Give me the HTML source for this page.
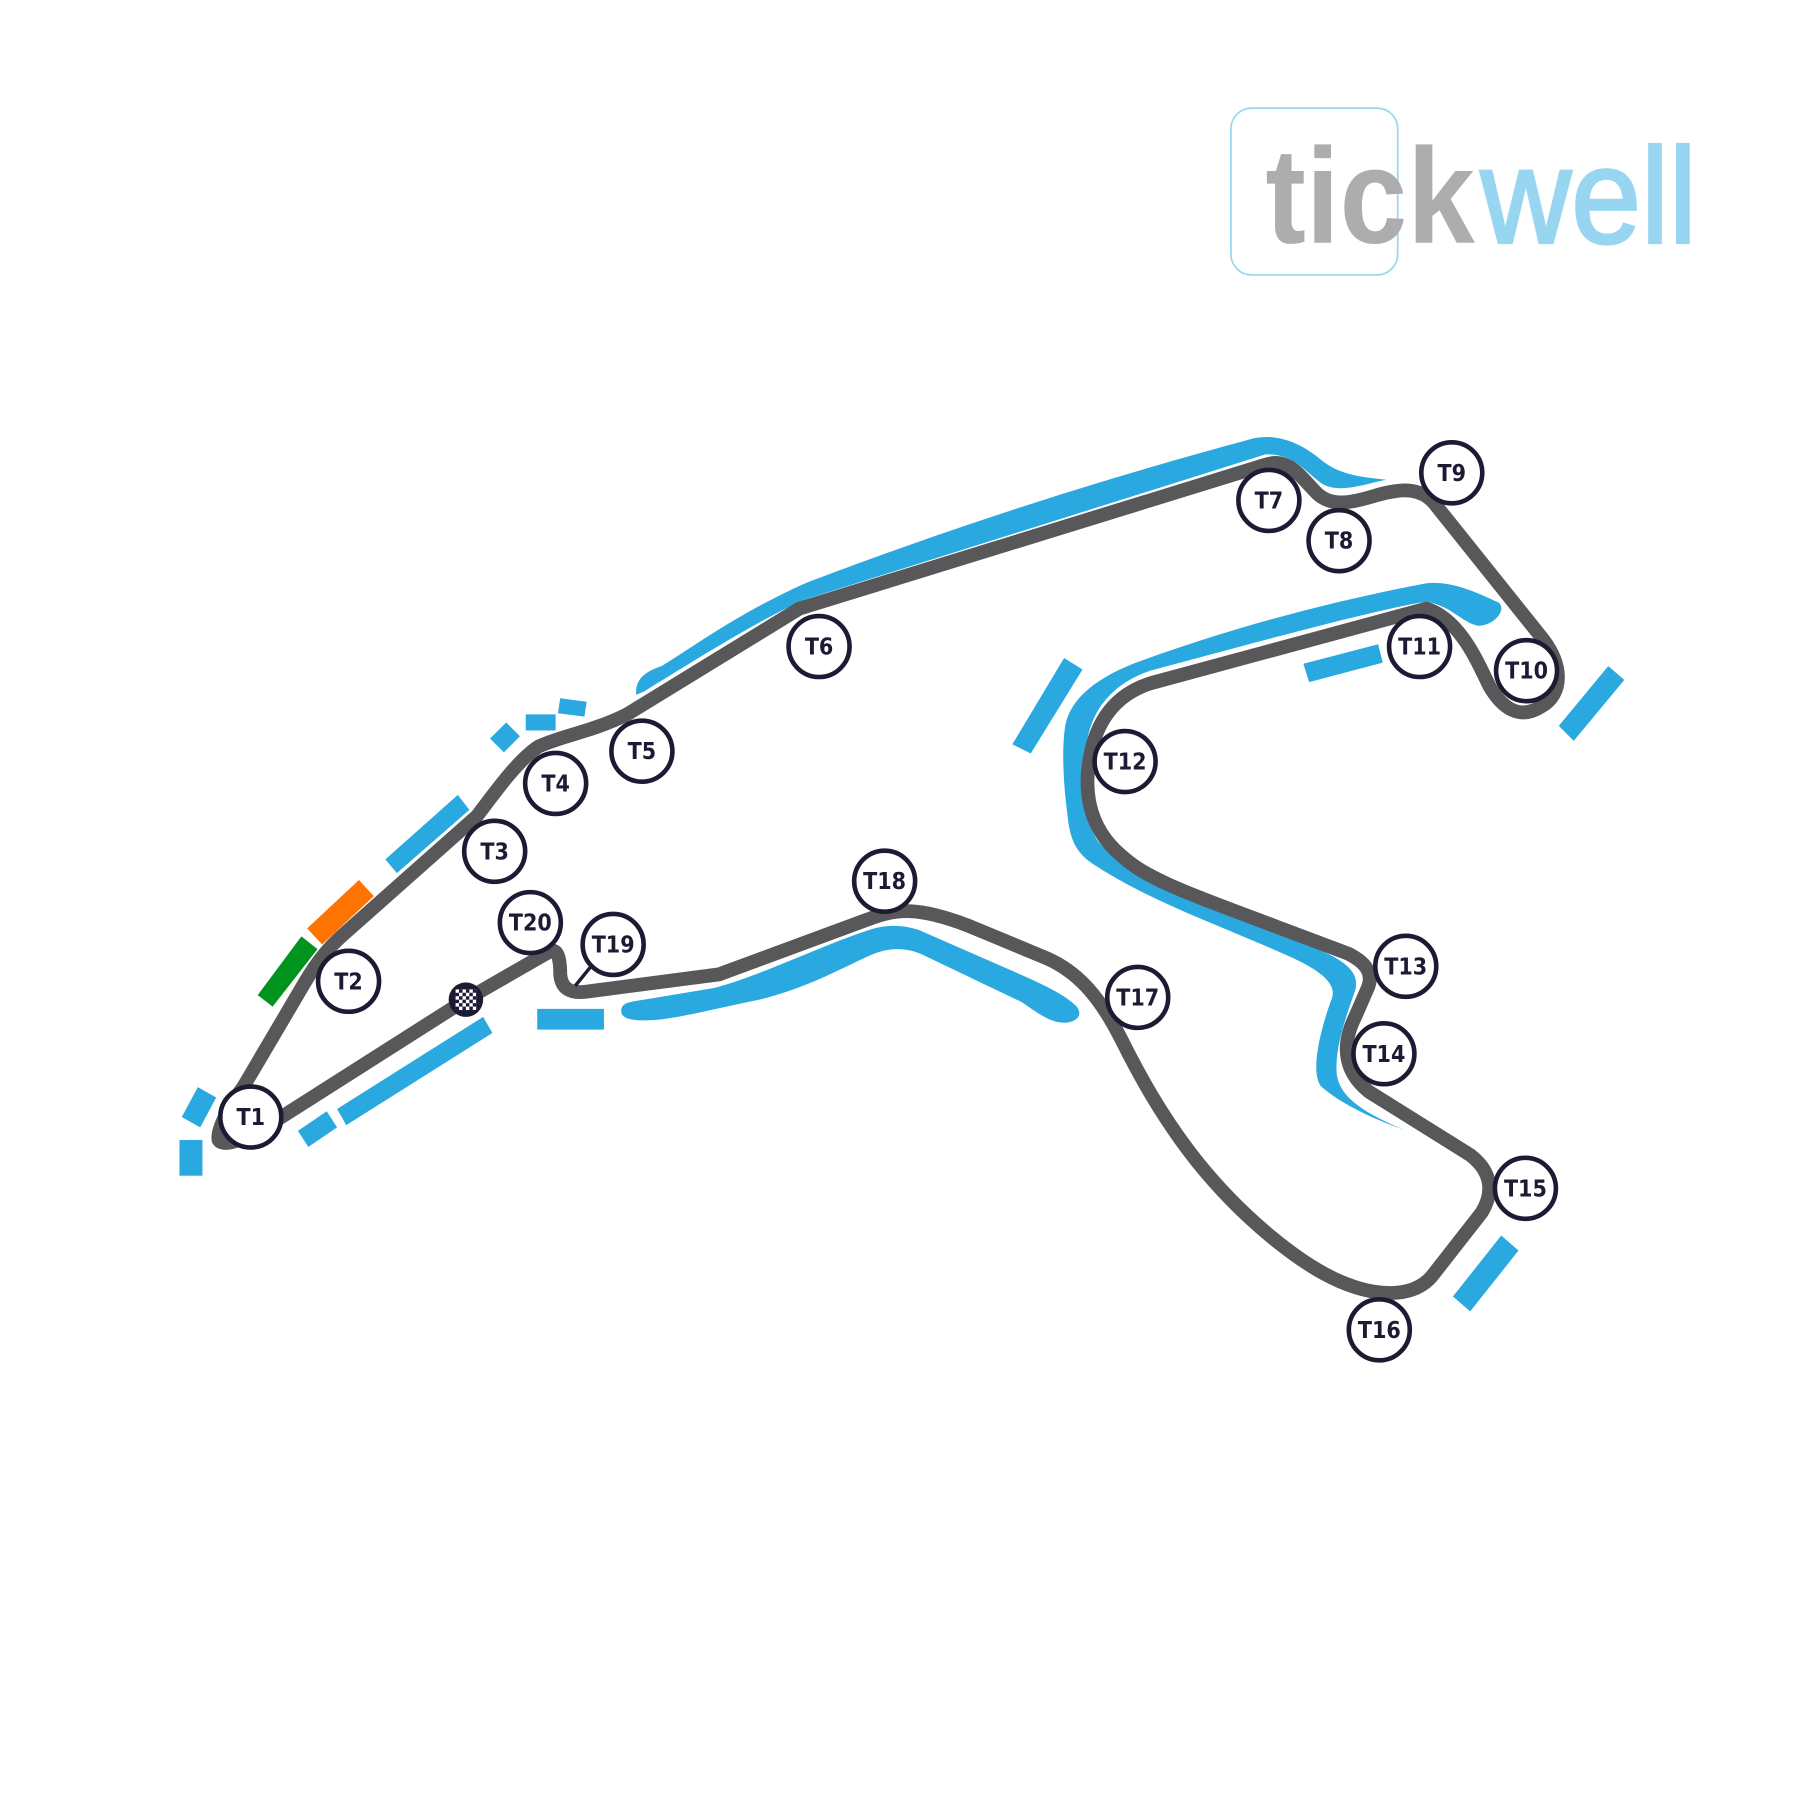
<!DOCTYPE html>
<html><head><meta charset="utf-8"><style>html,body{margin:0;padding:0;background:#fff}svg{display:block}</style></head>
<body>
<svg width="1800" height="1800" viewBox="0 0 1560 1560" xmlns="http://www.w3.org/2000/svg">
<defs>
<pattern id="chk" width="6" height="6" patternUnits="userSpaceOnUse" x="399" y="864">
<rect width="6" height="6" fill="#1c1b33"/><rect width="3" height="3" fill="#fff"/><rect x="3" y="3" width="3" height="3" fill="#fff"/>
</pattern>
</defs>
<g transform="translate(0,-1) scale(0.997)">
<rect x="1070" y="95" width="145" height="145" rx="18" fill="none" stroke="#9ad6f0" stroke-width="1.5"/>
<text x="1100" y="212" font-family="Liberation Sans, sans-serif" font-weight="bold" font-size="118" fill="#adadaf" textLength="182" lengthAdjust="spacingAndGlyphs">tick</text>
<text x="1287" y="212" font-family="Liberation Sans, sans-serif" font-size="118" fill="#97d5f0" stroke="#97d5f0" stroke-width="2.5" textLength="188" lengthAdjust="spacingAndGlyphs">well</text>

<g fill="#29a9e0">
<path d="M553,605 C552,592 560,585 575,580 C600,565 640,535 700,508 C800,470 920,428 1090,382 C1110,378 1130,385 1150,402 C1165,414 1185,416 1205,418 C1185,422 1165,430 1150,422 C1135,412 1125,395 1100,396 L700,522 C660,540 620,565 560,602 Z"/>
<path d="M985,578 C1060,550 1150,525 1240,508 C1260,506 1280,514 1303,525 C1310,532 1298,545 1285,545 C1272,543 1262,528 1240,524 C1200,530 1100,557 1000,584 C970,594 950,615 945,645 C940,680 942,715 955,733 C985,765 1060,790 1150,828 C1172,838 1182,848 1178,862 C1170,885 1160,912 1162,935 C1165,955 1185,968 1220,983 C1190,972 1165,960 1148,945 C1138,930 1150,890 1158,868 C1162,855 1145,843 1120,832 C1060,805 1000,785 950,752 C935,742 930,730 928,710 C924,680 923,650 926,632 C930,610 950,592 985,578 Z"/>
<path d="M540,880 C540,872 548,872 560,870 L620,860 C660,850 720,820 760,808 C775,804 790,806 800,810 L880,845 C905,856 925,865 936,876 C942,884 935,890 925,890 C912,890 900,880 888,872 L800,830 C785,824 770,825 755,832 C725,846 700,860 660,870 C620,878 585,888 560,888 C548,888 540,886 540,880 Z"/>
<rect x="467" y="878" width="58" height="18"/>
<rect x="156" y="992" width="20" height="31"/>
<polygon points="158,972 172,946 188,955 174,981"/>
<polygon points="259,984 284,967 293,981 268,998"/>
<polygon points="293,965 420,885 428,899 301,979"/>
<polygon points="335,748 398,692 408,705 345,760"/>
<polygon points="426,643 440,629 452,641 438,655"/>
<rect x="457" y="622" width="26" height="14"/>
<polygon points="487,608 510,611 508,624 485,621"/>
<polygon points="880,648 925,573 941,583 896,656"/>
<polygon points="1133,578 1198,561 1202,577 1138,594"/>
<polygon points="1355,632 1398,580 1412,592 1368,645"/>
<polygon points="1263,1128 1305,1075 1320,1088 1278,1141"/>
</g>
<polygon points="267,808 312,766 325,780 280,822" fill="#ff7300"/>
<polygon points="224,866 262,815 276,826 237,876" fill="#00941f"/>

<path fill="none" stroke="#58585a" stroke-width="12" stroke-linejoin="round" stroke-linecap="round" d="
M405,870 L240,975 C220,988 195,1000 190,992 C188,982 200,962 212,945 L265,855 C275,838 285,825 300,812 L415,710 C430,690 450,662 468,650 C490,640 515,637 545,622 L695,530 L1100,405 C1120,398 1130,415 1145,430 C1158,442 1175,438 1195,432 C1215,426 1235,423 1248,440 L1340,555 C1360,580 1358,605 1340,615 C1320,628 1305,615 1295,598 C1285,578 1270,540 1240,530 L1000,595 C975,603 958,620 950,648 C940,685 945,720 975,745 C1000,768 1040,780 1172,830 C1188,838 1195,848 1188,862 L1178,885 C1168,905 1165,930 1190,950 L1278,1005 C1295,1018 1300,1035 1288,1055 L1245,1110 C1230,1128 1200,1130 1165,1115 C1130,1100 1080,1060 1040,1010 C1010,972 990,935 975,905 C955,865 935,845 910,834 L840,805 C800,790 780,790 755,800 L625,848 L510,863 C495,865 488,860 487,848 C487,835 485,825 478,828 L405,870"/>

<circle cx="405" cy="870" r="15" fill="#1c1b33"/>
<rect x="396" y="861" width="18" height="18" fill="url(#chk)"/>
<line x1="500" y1="858" x2="513" y2="842" stroke="#1c1b33" stroke-width="3"/>

<g fill="#fff" stroke="#1c1b33" stroke-width="4">
<circle cx="218" cy="972" r="26.5"/><circle cx="303" cy="854" r="26.5"/><circle cx="430" cy="741" r="26.5"/>
<circle cx="483" cy="682" r="26.5"/><circle cx="558" cy="654" r="26.5"/><circle cx="712" cy="563" r="26.5"/>
<circle cx="1103" cy="436" r="26.5"/><circle cx="1164" cy="471" r="26.5"/><circle cx="1262" cy="412" r="26.5"/>
<circle cx="1327" cy="584" r="26.5"/><circle cx="1234" cy="563" r="26.5"/><circle cx="978" cy="663" r="26.5"/>
<circle cx="1222" cy="841" r="26.5"/><circle cx="1203" cy="917" r="26.5"/><circle cx="1326" cy="1034" r="26.5"/>
<circle cx="1199" cy="1157" r="26.5"/><circle cx="989" cy="868" r="26.5"/><circle cx="769" cy="767" r="26.5"/>
<circle cx="533" cy="822" r="26.5"/><circle cx="461" cy="803" r="26.5"/>
</g>
<g font-family="DejaVu Sans Condensed, DejaVu Sans, Liberation Sans, sans-serif" font-weight="bold" font-size="20" fill="#1c1b33" text-anchor="middle">
<text x="218" y="979">T1</text><text x="303" y="861">T2</text><text x="430" y="748">T3</text>
<text x="483" y="689">T4</text><text x="558" y="661">T5</text><text x="712" y="570">T6</text>
<text x="1103" y="443">T7</text><text x="1164" y="478">T8</text><text x="1262" y="419">T9</text>
<text x="1327" y="591">T10</text><text x="1234" y="570">T11</text><text x="978" y="670">T12</text>
<text x="1222" y="848">T13</text><text x="1203" y="924">T14</text><text x="1326" y="1041">T15</text>
<text x="1199" y="1164">T16</text><text x="989" y="875">T17</text><text x="769" y="774">T18</text>
<text x="533" y="829">T19</text><text x="461" y="810">T20</text>
</g>
</g>
</svg>
</body></html>
